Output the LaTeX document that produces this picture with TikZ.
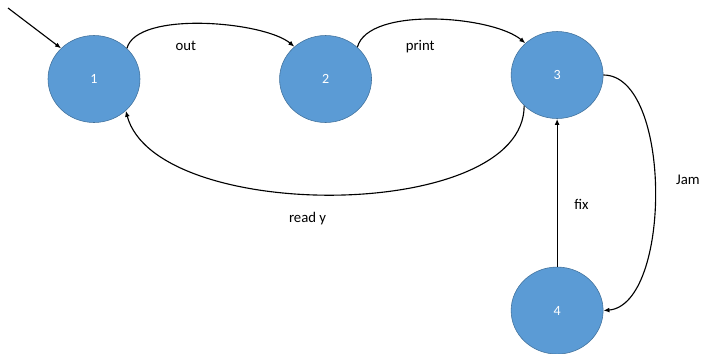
\documentclass[tikz,border=0pt]{standalone}
\usepackage{fontspec}
\setmainfont{Carlito}
\usetikzlibrary{arrows.meta,positioning,shapes.geometric}
\definecolor{stateblue}{HTML}{5B9BD5}
\definecolor{stateline}{HTML}{41719C}
\tikzset{
  statenode/.style={
    ellipse,
    draw=stateline,
    fill=stateblue,
    thin,
    minimum width=2.3cm,
    minimum height=2.175cm,
    text=white,
    font=\fontsize{10}{12}\selectfont
  },
  trans/.style={
    -{Latex[length=1.5mm,width=1.2mm]},
    line width=0.8pt,
    draw=black
  },
  translabel/.style={
    font=\fontsize{10.5}{12}\selectfont,
    text=black
  }
}

\begin{document}
\begin{tikzpicture}[node distance=3.7cm and 3.475cm]
\useasboundingbox (0,0) rectangle (17.625,-8.825);
\node[statenode] (s1) at (2.35,-1.975) {1};
\node[statenode, right=of s1] (s2) {2};
\node[statenode, right=of s2, yshift=0.1cm] (s3) {3};
\node[statenode, below=of s3] (s4) {4};
\coordinate (start) at (0.2,-0.2);
\draw[trans] (start) -- (s1.137);
\draw[trans] (s1.43) to[out=75, in=140, looseness=0.6] node[translabel, pos=0.42, below=3mm] {out} (s2.134);
\draw[trans] (s2.45) to[out=75, in=140, looseness=0.65] node[translabel, pos=0.44, below=4mm] {print} (s3.135);
\draw[trans] (s3.223) to[out=-90, in=-75, looseness=0.75] node[translabel, pos=0.55, below=3.3mm] {read y} (s1.-45);
\draw[trans] (s4) -- node[translabel, pos=0.42, right=3mm] {fix} (s3);
\draw[trans] (s3.east) to[out=0, in=5, looseness=0.75] node[translabel, pos=0.47, right=4mm] {Jam} (s4.east);
\end{tikzpicture}
\end{document}
